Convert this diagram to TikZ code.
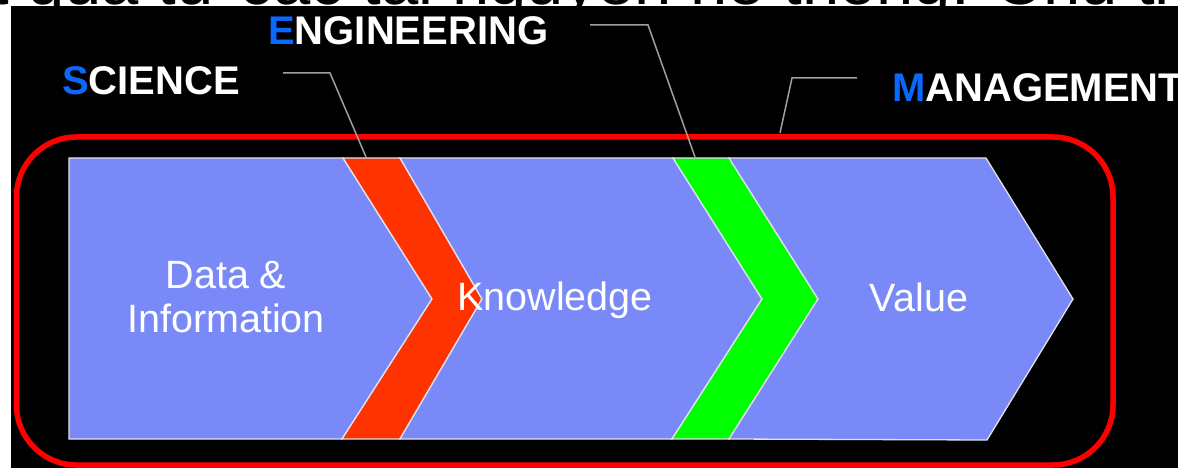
\documentclass[tikz,border=0pt]{standalone}
\usepackage{fontspec}
\setmainfont{Liberation Sans}
\definecolor{chevblue}{RGB}{121,138,248}
\definecolor{chevred}{RGB}{255,51,0}
\definecolor{chevgreen}{RGB}{0,255,0}
\definecolor{lblblue}{RGB}{10,104,255}
\definecolor{leader}{RGB}{160,160,160}
\definecolor{edge}{RGB}{225,225,235}
\begin{document}
\begin{tikzpicture}[x=1pt,y=-1pt,
  stage/.style={fill=chevblue,draw=edge,line width=1.3pt,line join=miter},
  redchev/.style={fill=chevred,draw=edge,line width=1.3pt},
  greenchev/.style={fill=chevgreen,draw=edge,line width=1.3pt},
  lbl/.style={inner sep=0pt,anchor=base west,text=white,font=\fontsize{40}{46}\bfseries\selectfont},
  stagetxt/.style={inner sep=0pt,text=white,font=\fontsize{39.5}{44}\selectfont},
  leaderline/.style={draw=leader,line width=1.5pt}]
\useasboundingbox (0,0) rectangle (1178,468);
\fill[white] (0,0) rectangle (1178,468);
\node[inner sep=0pt,anchor=base west,font=\fontsize{67}{72}\selectfont] (toptext) at (-10,5) {t quả từ các tài nguyên hệ thống. Chủ trì};
\fill[black] (11,6) rectangle (1178,468);
% stages
\draw[stage] (69,158) -- (343,158) -- (432,299) -- (342,439) -- (69,439) -- cycle;
\draw[redchev] (343,158) -- (400,158) -- (482,299) -- (400,439) -- (342,439) -- (432,299) -- cycle;
\draw[stage] (400,158) -- (673,158) -- (762,299) -- (672,439) -- (400,439) -- (482,299) -- cycle;
\draw[greenchev] (673,158) -- (729,158) -- (818,299) -- (729,439) -- (672,439) -- (762,299) -- cycle;
\draw[stage] (729,158) -- (986,158) -- (1073,299) -- (987,440) -- (729,439) -- (818,299) -- cycle;
% frame
\draw[red,line width=5.5pt,rounded corners=60pt] (16.5,137) rectangle (1113,465);
% stage texts
\node[stagetxt,align=center,anchor=base] (data) at (226,332) {Data \&\\Information};
\node[stagetxt,anchor=base] (know) at (555,310) {Knowledge};
\node[stagetxt,anchor=base] (value) at (919,311) {Value};
% labels
\node[lbl] (sci) at (62,95) {{\color{lblblue}S}CIENCE};
\node[lbl] (eng) at (268,45) {{\color{lblblue}E}NGINEERING};
\node[lbl] (man) at (892,102) {{\color{lblblue}M}ANAGEMENT};
% leader lines
\coordinate (sciA) at (283,73);
\coordinate (sciB) at (330,73);
\coordinate (sciC) at (366,157);
\coordinate (engA) at (590,25);
\coordinate (engB) at (648,25);
\coordinate (engC) at (695,157);
\coordinate (manA) at (857,78);
\coordinate (manB) at (792,78);
\coordinate (manC) at (780,133);
\draw[leaderline] (sciA) -- (sciB) -- (sciC);
\draw[leaderline] (engA) -- (engB) -- (engC);
\draw[leaderline] (manA) -- (manB) -- (manC);
\end{tikzpicture}
\end{document}
